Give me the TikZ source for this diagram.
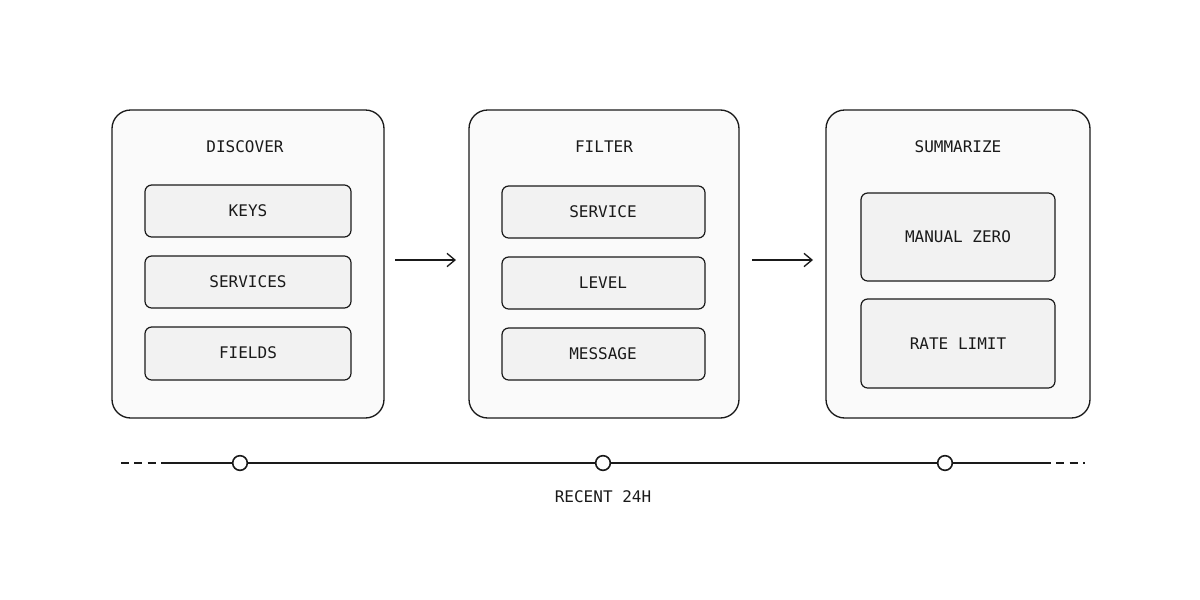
\documentclass[tikz,border=0pt]{standalone}
\usepackage{fontspec}
\setmainfont{DejaVu Sans Mono}
\usetikzlibrary{arrows.meta}
\definecolor{ink}{HTML}{1A1A1A}
\definecolor{outerfill}{HTML}{FAFAFA}
\definecolor{innerfill}{HTML}{F2F2F2}
\begin{document}
\begin{tikzpicture}[x=0.75pt,y=-0.75pt,
  outer/.style={draw=ink,line width=1pt,fill=outerfill,rounded corners=14pt},
  inner/.style={draw=ink,line width=0.9pt,fill=innerfill,rounded corners=5pt},
  lbl/.style={font=\fontsize{12}{14}\selectfont,text=ink},
  arr/.style={draw=ink,line width=1pt,-{Straight Barb[length=6pt,width=10pt]}},
  tick/.style={draw=ink,line width=1.2pt,fill=white}]
\useasboundingbox (0,0) rectangle (1200,600);
% outer panels
\draw[outer] (112,110) rectangle (384,418);
\draw[outer] (469,110) rectangle (739,418);
\draw[outer] (826,110) rectangle (1090,418);
\node[lbl] (t1) at (245,147) {DISCOVER};
\node[lbl] (t2) at (604,147) {FILTER};
\node[lbl] (t3) at (958,147) {SUMMARIZE};
% inner boxes
\draw[inner] (145,185) rectangle (351,237); \node[lbl] (k) at (248,211) {KEYS};
\draw[inner] (145,256) rectangle (351,308); \node[lbl] (s) at (248,282) {SERVICES};
\draw[inner] (145,327) rectangle (351,380); \node[lbl] (f) at (248,353) {FIELDS};
\draw[inner] (502,186) rectangle (705,238); \node[lbl] (sv) at (603,212) {SERVICE};
\draw[inner] (502,257) rectangle (705,309); \node[lbl] (lv) at (603,283) {LEVEL};
\draw[inner] (502,328) rectangle (705,380); \node[lbl] (ms) at (603,354) {MESSAGE};
\draw[inner] (861,193) rectangle (1055,281); \node[lbl] (mz) at (958,237) {MANUAL ZERO};
\draw[inner] (861,299) rectangle (1055,388); \node[lbl] (rl) at (958,344) {RATE LIMIT};
% arrows
\coordinate (a1) at (395,260); \coordinate (b1) at (456,260);
\coordinate (a2) at (752,260); \coordinate (b2) at (813,260);
\draw[arr] (a1) -- (b1);
\draw[arr] (a2) -- (b2);
% timeline
\coordinate (d0) at (121,463); \coordinate (l0) at (165,463);
\coordinate (l1) at (1043,463); \coordinate (d1) at (1085,463);
\draw[ink,line width=1.2pt,dash pattern=on 6pt off 4pt] (d0) -- (l0);
\draw[ink,line width=1.2pt] (l0) -- (l1);
\draw[ink,line width=1.2pt,dash pattern=on 6pt off 4pt] (l1) -- (d1);
\node[tick,circle,minimum size=11pt,inner sep=0pt] (c1) at (240,463) {};
\node[tick,circle,minimum size=11pt,inner sep=0pt] (c2) at (603,463) {};
\node[tick,circle,minimum size=11pt,inner sep=0pt] (c3) at (945,463) {};
\node[lbl] (r) at (603,497) {RECENT 24H};
\end{tikzpicture}
\end{document}
